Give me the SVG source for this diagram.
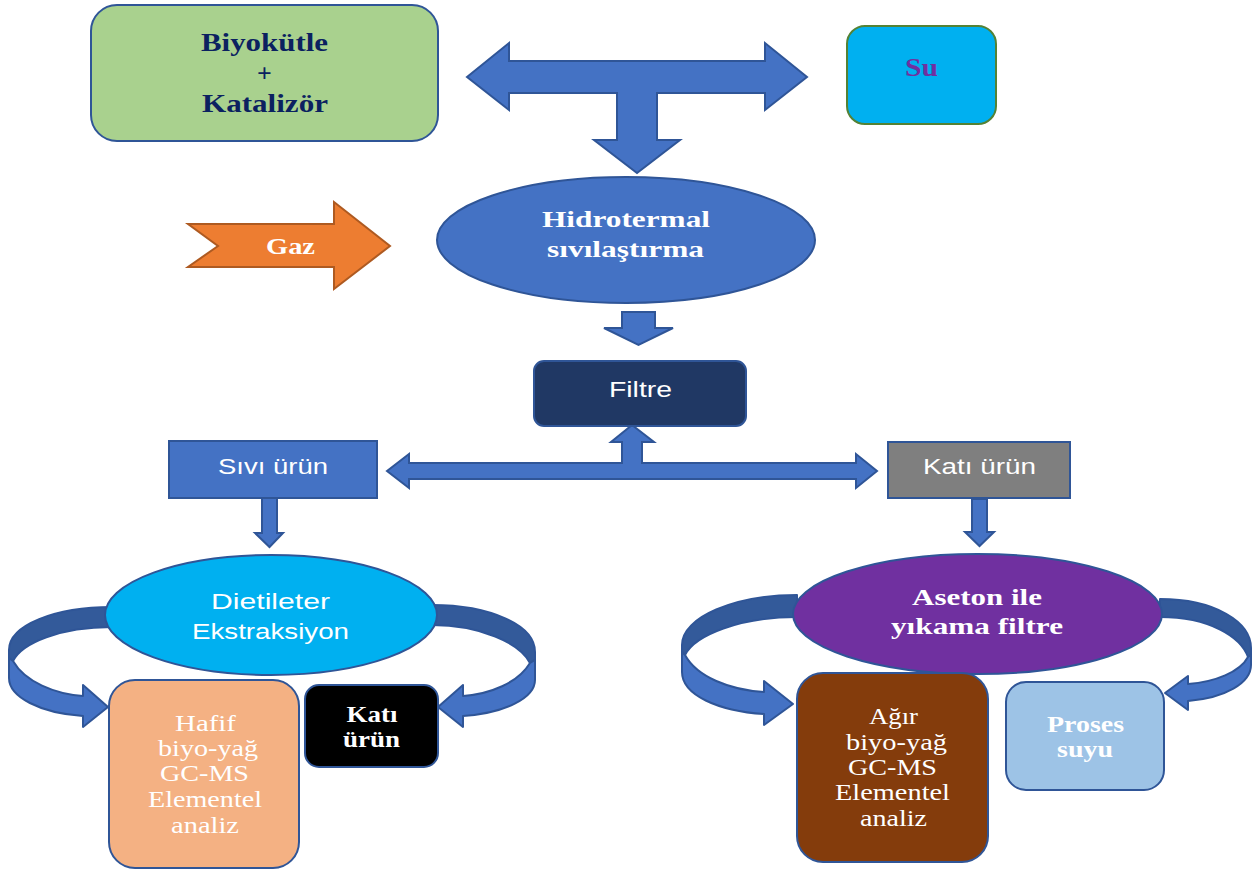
<svg xmlns="http://www.w3.org/2000/svg" width="1253" height="875" viewBox="0 0 1253 875">
<style>
.blk{fill:#4472c4;stroke:#2f5597;stroke-width:2;stroke-linejoin:miter}
.dk{fill:#335a9a;stroke:#2f5597;stroke-width:2;stroke-linejoin:round}
.lt{fill:#4472c4;stroke:#2f5597;stroke-width:2;stroke-linejoin:round}
.nd{stroke:#2f5597;stroke-width:2}
.sb{font-family:"Liberation Serif","Times New Roman",serif;font-weight:bold;text-anchor:middle}
.sr{font-family:"Liberation Serif","Times New Roman",serif;text-anchor:middle;fill:#fff;font-size:24px}
.ss{font-family:"Liberation Sans",Arial,sans-serif;text-anchor:middle;fill:#fff;font-size:22px}
</style>
<rect width="1253" height="875" fill="#fff"/>
<g id="connectors">
<path class="blk" d="M467,77 L509,43 L509,61 L765,61 L765,43 L807,77 L765,110 L765,93 L657,93 L657,140 L680,140 L637,173 L594,140 L617,140 L617,93 L509,93 L509,110 Z"/>
<path class="blk" d="M622,312 L655,312 L655,328 L673,328 L638.5,345 L604,328 L622,328 Z"/>
<path class="blk" d="M387,471 L409,454 L409,463 L622,463 L622,442 L611,442 L632,425 L654,442 L642,442 L642,463 L856,463 L856,454 L877,471 L856,488 L856,479 L409,479 L409,488 Z"/>
<path class="blk" d="M262,498 L277,498 L277,533 L283,533 L269.5,547 L255,533 L262,533 Z"/>
<path class="blk" d="M972,499 L987,499 L987,532 L994,532 L979.5,546 L965,532 L972,532 Z"/>
<path class="dk" d="M112,607 C55,607 9,625 9,650 L9,658 L13,661 C22,643 60,627 112,627 Z"/>
<path class="lt" d="M13,661 C25,682 55,694 83,696 L83,685 L108,707 L83,727 L83,716 C40,713 9,697 9,678 L9,658 Z"/>
<path class="dk" d="M432,605 C490,605 535,625 535,652 L535,660 L530,663 C520,643 480,625 432,625 Z"/>
<path class="lt" d="M530,663 C518,683 490,694 463,696 L463,685 L438,707 L463,727 L463,716 C505,713 535,698 535,680 L535,660 Z"/>
<path class="dk" d="M797,595 C735,595 682,617 682,645 L682,652 L685,655 C695,635 740,617 797,617 Z"/>
<path class="lt" d="M685,655 C697,677 730,690 764,692 L764,681 L793,704 L764,725 L764,714 C718,711 682,695 682,672 L682,652 Z"/>
<path class="dk" d="M1160,599 C1215,599 1251,622 1251,648 L1251,655 L1248,657 C1241,637 1210,617 1160,617 Z"/>
<path class="lt" d="M1248,657 C1240,672 1215,682 1188,684 L1188,676 L1165,693 L1188,710 L1188,701 C1225,698 1251,683 1251,665 L1251,655 Z"/>
</g>
<g id="gaz">
<path d="M188,224 L334,224 L334,202 L390,246 L334,289 L334,267 L188,267 L218,246 Z" fill="#ed7d31" stroke="#ae5a21" stroke-width="2"/>
<text class="sb" x="290.5" y="254" font-size="24" fill="#fff" textLength="49" lengthAdjust="spacingAndGlyphs">Gaz</text>
</g>
<g id="biyokutle">
<rect x="91" y="5" width="347" height="136" rx="26" fill="#a9d18e" class="nd"/>
<text class="sb" x="264.5" y="51" font-size="26" fill="#0b2160" textLength="127" lengthAdjust="spacingAndGlyphs">Biyokütle</text>
<text class="sb" x="264.5" y="82" font-size="26" fill="#0b2160">+</text>
<text class="sb" x="265" y="112" font-size="26" fill="#0b2160" textLength="126" lengthAdjust="spacingAndGlyphs">Katalizör</text>
</g>
<g id="su">
<rect x="847" y="26" width="149" height="98" rx="18" fill="#00b0f0" stroke="#548235" stroke-width="2"/>
<text class="sb" x="921.5" y="76" font-size="25" fill="#7030a0" textLength="33" lengthAdjust="spacingAndGlyphs">Su</text>
</g>
<g id="hidrotermal">
<ellipse cx="626" cy="240" rx="189" ry="63" fill="#4472c4" class="nd"/>
<text class="sb" x="626" y="227" font-size="24" fill="#fff" textLength="168" lengthAdjust="spacingAndGlyphs">Hidrotermal</text>
<text class="sb" x="625.5" y="257" font-size="24" fill="#fff" textLength="157" lengthAdjust="spacingAndGlyphs">sıvılaştırma</text>
</g>
<g id="filtre">
<rect x="534" y="361" width="212" height="65" rx="10" fill="#203864" class="nd"/>
<text class="ss" x="640.5" y="397" textLength="63" lengthAdjust="spacingAndGlyphs">Filtre</text>
</g>
<g id="sivi-urun">
<rect x="169" y="441" width="208" height="57" fill="#4472c4" class="nd"/>
<text class="ss" x="273" y="474" textLength="110" lengthAdjust="spacingAndGlyphs">Sıvı ürün</text>
</g>
<g id="kati-urun">
<rect x="888" y="442" width="182" height="56" fill="#7f7f7f" class="nd"/>
<text class="ss" x="979.5" y="474" textLength="113" lengthAdjust="spacingAndGlyphs">Katı ürün</text>
</g>
<g id="dietileter">
<ellipse cx="271" cy="615" rx="166" ry="60" fill="#00b0f0" class="nd"/>
<text class="ss" x="270.5" y="609" textLength="119" lengthAdjust="spacingAndGlyphs">Dietileter</text>
<text class="ss" x="270.5" y="639" textLength="157" lengthAdjust="spacingAndGlyphs">Ekstraksiyon</text>
</g>
<g id="aseton">
<ellipse cx="977.5" cy="614" rx="184.5" ry="60" fill="#7030a0" class="nd"/>
<text class="sb" x="977" y="605" font-size="23" fill="#fff" textLength="130" lengthAdjust="spacingAndGlyphs">Aseton ile</text>
<text class="sb" x="977" y="634" font-size="23" fill="#fff" textLength="172" lengthAdjust="spacingAndGlyphs">yıkama filtre</text>
</g>
<g id="hafif">
<rect x="109" y="680" width="190" height="188" rx="26" fill="#f4b183" class="nd"/>
<text class="sr" x="205.5" y="731" textLength="61" lengthAdjust="spacingAndGlyphs">Hafif</text>
<text class="sr" x="208" y="756" textLength="100" lengthAdjust="spacingAndGlyphs">biyo-yağ</text>
<text class="sr" x="204.5" y="781" textLength="89" lengthAdjust="spacingAndGlyphs">GC-MS</text>
<text class="sr" x="205" y="807" textLength="114" lengthAdjust="spacingAndGlyphs">Elementel</text>
<text class="sr" x="205" y="833" textLength="68" lengthAdjust="spacingAndGlyphs">analiz</text>
</g>
<g id="kati-siyah">
<rect x="305" y="685" width="133" height="82" rx="14" fill="#000" class="nd"/>
<text class="sb" x="372" y="722" font-size="23" fill="#fff" textLength="51" lengthAdjust="spacingAndGlyphs">Katı</text>
<text class="sb" x="371.5" y="747" font-size="23" fill="#fff" textLength="57" lengthAdjust="spacingAndGlyphs">ürün</text>
</g>
<g id="agir">
<rect x="797" y="673" width="191" height="189" rx="26" fill="#843c0c" class="nd"/>
<text class="sr" x="893.5" y="724" textLength="49" lengthAdjust="spacingAndGlyphs">Ağır</text>
<text class="sr" x="896.5" y="750" textLength="101" lengthAdjust="spacingAndGlyphs">biyo-yağ</text>
<text class="sr" x="892.5" y="775" textLength="89" lengthAdjust="spacingAndGlyphs">GC-MS</text>
<text class="sr" x="892.5" y="800" textLength="115" lengthAdjust="spacingAndGlyphs">Elementel</text>
<text class="sr" x="893.5" y="826" textLength="67" lengthAdjust="spacingAndGlyphs">analiz</text>
</g>
<g id="proses">
<rect x="1006" y="682" width="158" height="108" rx="20" fill="#9dc3e6" class="nd"/>
<text class="sb" x="1085.5" y="732" font-size="23" fill="#fff" textLength="77" lengthAdjust="spacingAndGlyphs">Proses</text>
<text class="sb" x="1085" y="757" font-size="23" fill="#fff" textLength="56" lengthAdjust="spacingAndGlyphs">suyu</text>
</g>
</svg>
